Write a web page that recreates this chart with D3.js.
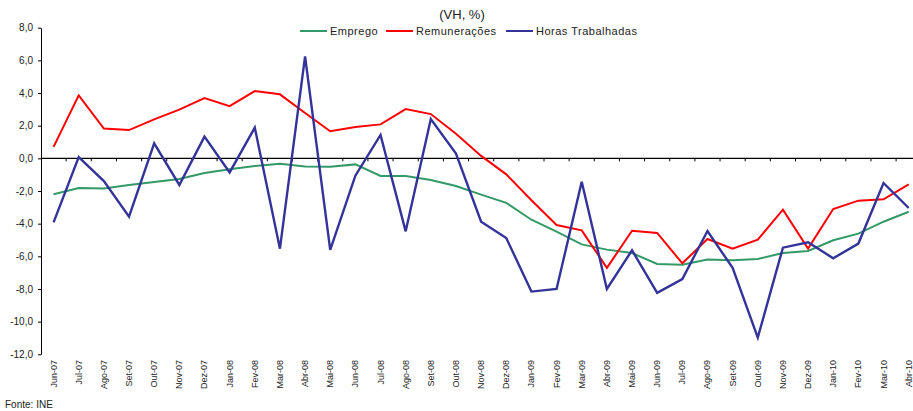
<!DOCTYPE html>
<html>
<head>
<meta charset="utf-8">
<script src="https://cdn.jsdelivr.net/npm/d3@7"></script>
<style>
    html, body { margin: 0; padding: 0; background: #fff; }
    svg { display: block; font-family: "Liberation Sans", Arial, sans-serif; }
</style>
</head>
<body>
<div id="chart"></div>
<script>
// Categories (months) and the three series.
const months = ['Jun-07', 'Jul-07', 'Ago-07', 'Set-07', 'Out-07', 'Nov-07', 'Dez-07', 'Jan-08', 'Fev-08',
    'Mar-08', 'Abr-08', 'Mai-08', 'Jun-08', 'Jul-08', 'Ago-08', 'Set-08', 'Out-08', 'Nov-08', 'Dez-08',
    'Jan-09', 'Fev-09', 'Mar-09', 'Abr-09', 'Mai-09', 'Jun-09', 'Jul-09', 'Ago-09', 'Set-09', 'Out-09',
    'Nov-09', 'Dez-09', 'Jan-10', 'Fev-10', 'Mar-10', 'Abr-10'];

const emprego = [-2.2, -1.82, -1.84, -1.63, -1.45, -1.27, -0.9, -0.67, -0.47, -0.33, -0.5, -0.51,
    -0.37, -1.08, -1.08, -1.33, -1.69, -2.22, -2.73, -3.76, -4.49, -5.27, -5.59, -5.8, -6.47, -6.51,
    -6.2, -6.24, -6.16, -5.8, -5.67, -5.02, -4.61, -3.88, -3.27];

const remuneracoes = [0.7, 3.86, 1.82, 1.73, 2.39, 2.98, 3.69, 3.2, 4.12, 3.92, 2.78, 1.66,
    1.92, 2.08, 3.02, 2.71, 1.51, 0.15, -0.98, -2.57, -4.08, -4.41, -6.71, -4.43, -4.57, -6.43,
    -4.94, -5.53, -4.98, -3.14, -5.53, -3.1, -2.59, -2.51, -1.59];

const horas = [-3.92, 0.08, -1.39, -3.57, 0.92, -1.63, 1.33, -0.86, 1.88, -5.53, 6.24, -5.61,
    -1.06, 1.43, -4.47, 2.41, 0.29, -3.88, -4.88, -8.16, -8.0, -1.43, -8.0, -5.63, -8.24, -7.39,
    -4.45, -6.71, -10.98, -5.47, -5.14, -6.12, -5.22, -1.51, -3.04];

const yTicks = [8, 6, 4, 2, 0, -2, -4, -6, -8, -10, -12];

const series = [
    { name: 'Emprego', values: emprego, color: '#339966', width: 2 },
    { name: 'Remunerações', values: remuneracoes, color: '#ff0000', width: 2 },
    { name: 'Horas Trabalhadas', values: horas, color: '#333399', width: 2.4 },
];

const width = 913;
const height = 411;
const left = 41;
const step = 25.15;

const svg = d3.select('#chart').append('svg')
    .attr('width', width)
    .attr('height', height);

const x = d3.scaleBand()
    .domain(months)
    .range([left, left + months.length * step])
    .padding(0);

const y = d3.scaleLinear()
    .domain([-12, 8])
    .range([354.3, 27.7]);

const fmt = (v) => v.toFixed(1).replace('.', ',');

// y axis
const yAxis = d3.axisLeft(y)
    .tickValues(yTicks)
    .tickSize(3)
    .tickSizeOuter(0)
    .tickPadding(5)
    .tickFormat(fmt);

const yg = svg.append('g')
    .attr('transform', `translate(${left},0)`)
    .call(yAxis);
yg.select('.domain').attr('stroke', '#000').attr('stroke-width', 1);
yg.selectAll('.tick line').attr('stroke', '#000');
yg.selectAll('.tick text')
    .attr('font-size', '10px')
    .attr('fill', '#222')
    .attr('font-family', '"Liberation Sans", Arial, sans-serif');

// zero line with tick marks between categories
svg.append('line')
    .attr('x1', left)
    .attr('x2', width)
    .attr('y1', y(0))
    .attr('y2', y(0))
    .attr('stroke', '#000')
    .attr('stroke-width', 1.4);

svg.append('g')
    .selectAll('line')
    .data(months.slice(1))
    .join('line')
    .attr('x1', (d) => x(d))
    .attr('x2', (d) => x(d))
    .attr('y1', y(0))
    .attr('y2', y(0) + 3)
    .attr('stroke', '#000')
    .attr('stroke-width', 1);

// category labels along the bottom, rotated
svg.append('g')
    .selectAll('text')
    .data(months)
    .join('text')
    .attr('transform', (d) => `translate(${x(d) + x.bandwidth() / 2 + 3},360) rotate(-90)`)
    .attr('text-anchor', 'end')
    .attr('font-size', '9px')
    .attr('fill', '#222')
    .text((d) => d);

// series lines
const line = d3.line()
    .x((d, i) => x(months[i]) + x.bandwidth() / 2)
    .y((d) => y(d));

svg.append('g')
    .selectAll('path')
    .data(series)
    .join('path')
    .attr('d', (s) => line(s.values))
    .attr('fill', 'none')
    .attr('stroke', (s) => s.color)
    .attr('stroke-width', (s) => s.width)
    .attr('stroke-linejoin', 'miter');

// title
svg.append('text')
    .attr('x', 462)
    .attr('y', 19)
    .attr('text-anchor', 'middle')
    .attr('font-size', '13px')
    .attr('fill', '#222')
    .text('(VH, %)');

// legend
const legendX = [300, 386, 506];
const legend = svg.append('g')
    .selectAll('g')
    .data(series)
    .join('g')
    .attr('transform', (d, i) => `translate(${legendX[i]},31)`);

legend.append('line')
    .attr('x1', 0)
    .attr('x2', 27)
    .attr('stroke', (d) => d.color)
    .attr('stroke-width', 2);

legend.append('text')
    .attr('x', 30)
    .attr('y', 4)
    .attr('font-size', '11px')
    .attr('letter-spacing', '0.5px')
    .attr('fill', '#222')
    .text((d) => d.name);

// source
svg.append('text')
    .attr('x', 5)
    .attr('y', 408)
    .attr('font-size', '10px')
    .attr('fill', '#222')
    .text('Fonte: INE');
</script>
</body>
</html>
